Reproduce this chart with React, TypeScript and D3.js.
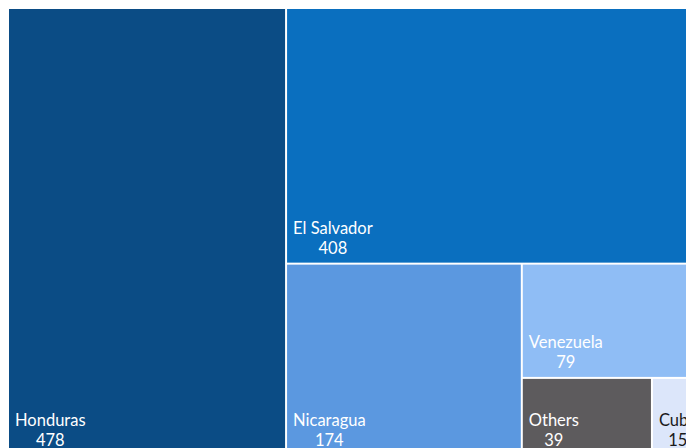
import React from "react";
import * as d3 from "d3";

const names = ["Honduras", "El Salvador", "Nicaragua", "Venezuela", "Others", "Cuba"];
const values = [478, 408, 174, 79, 39, 15];
const colors = ["#0b4c85", "#0a6fbf", "#5b98e0", "#8fbdf5", "#5d5b5d", "#dce6fa"];
const textColors = ["#ffffff", "#ffffff", "#ffffff", "#ffffff", "#ffffff", "#1a1a1a"];

const W = 694;
const H = 448;
const FS = 16.5;
const FONT = `${FS}px Lato`;

let ctx: CanvasRenderingContext2D | null = null;
function measure(t: string): number {
  if (!ctx) ctx = document.createElement("canvas").getContext("2d");
  if (!ctx) return t.length * 8;
  ctx.font = FONT;
  return ctx.measureText(t).width;
}

export default function App() {
  const data = names.map((n, i) => ({ name: n, value: values[i], color: colors[i], tc: textColors[i] }));
  const root = d3
    .hierarchy<any>({ children: data })
    .sum((d: any) => d.value || 0)
    .sort((a, b) => (b.value || 0) - (a.value || 0));
  d3.treemap<any>().tile(d3.treemapSquarify.ratio(1)).size([W, H]).paddingInner(2).paddingOuter(1)(root);
  const leaves = root.leaves() as any[];
  return (
    <svg width={W} height={H} style={{ display: "block" }}>
      {leaves.map((l, i) => {
        const nw = measure(l.data.name);
        const tx = l.x0 + 6;
        return (
          <g key={i}>
            <rect x={l.x0} y={l.y0} width={l.x1 - l.x0} height={l.y1 - l.y0} fill={l.data.color} />
            <text x={tx} y={l.y1 - 29} fill={l.data.tc} fontFamily="Lato" fontSize={FS}>
              {l.data.name}
            </text>
            <text x={tx + nw / 2} y={l.y1 - 9} fill={l.data.tc} fontFamily="Lato" fontSize={FS} textAnchor="middle">
              {l.data.value}
            </text>
          </g>
        );
      })}
    </svg>
  );
}
